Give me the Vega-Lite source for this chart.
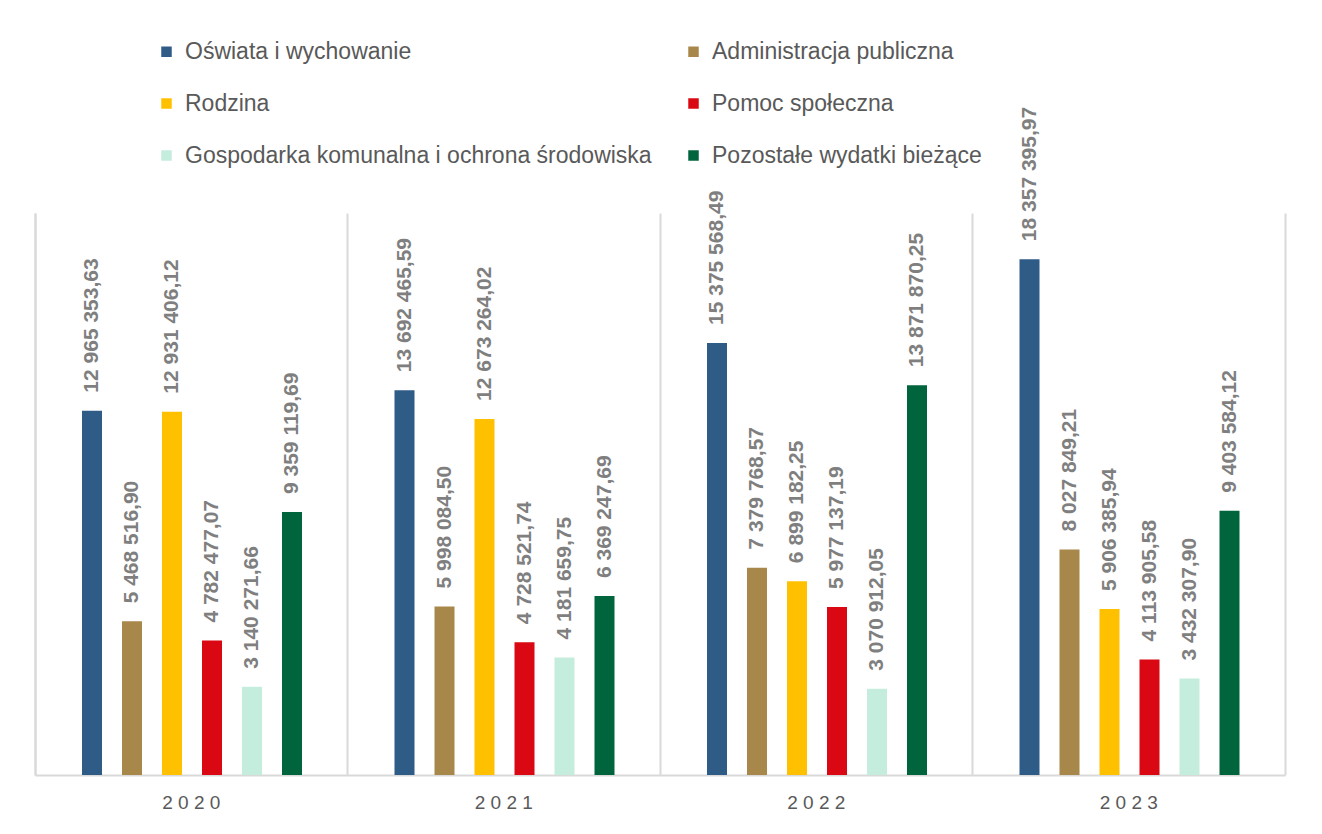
{
  "$schema": "https://vega.github.io/schema/vega-lite/v6.json",
  "autosize": {"type": "none"},
  "width": 1250,
  "height": 562,
  "padding": {"left": 35, "top": 213, "right": 37, "bottom": 59},
  "background": "white",
  "config": {
    "view": {"stroke": null},
    "font": "Liberation Sans",
    "locale": {"number": {"decimal": ",", "thousands": " ", "grouping": [3], "currency": ["", ""]}}
  },
  "data": {"values": [
    {"year": "2020", "cat": "Oświata i wychowanie", "value": 12965353.63},
    {"year": "2021", "cat": "Oświata i wychowanie", "value": 13692465.59},
    {"year": "2022", "cat": "Oświata i wychowanie", "value": 15375568.49},
    {"year": "2023", "cat": "Oświata i wychowanie", "value": 18357395.97},
    {"year": "2020", "cat": "Administracja publiczna", "value": 5468516.90},
    {"year": "2021", "cat": "Administracja publiczna", "value": 5998084.50},
    {"year": "2022", "cat": "Administracja publiczna", "value": 7379768.57},
    {"year": "2023", "cat": "Administracja publiczna", "value": 8027849.21},
    {"year": "2020", "cat": "Rodzina", "value": 12931406.12},
    {"year": "2021", "cat": "Rodzina", "value": 12673264.02},
    {"year": "2022", "cat": "Rodzina", "value": 6899182.25},
    {"year": "2023", "cat": "Rodzina", "value": 5906385.94},
    {"year": "2020", "cat": "Pomoc społeczna", "value": 4782477.07},
    {"year": "2021", "cat": "Pomoc społeczna", "value": 4728521.74},
    {"year": "2022", "cat": "Pomoc społeczna", "value": 5977137.19},
    {"year": "2023", "cat": "Pomoc społeczna", "value": 4113905.58},
    {"year": "2020", "cat": "Gospodarka komunalna i ochrona środowiska", "value": 3140271.66},
    {"year": "2021", "cat": "Gospodarka komunalna i ochrona środowiska", "value": 4181659.75},
    {"year": "2022", "cat": "Gospodarka komunalna i ochrona środowiska", "value": 3070912.05},
    {"year": "2023", "cat": "Gospodarka komunalna i ochrona środowiska", "value": 3432307.90},
    {"year": "2020", "cat": "Pozostałe wydatki bieżące", "value": 9359119.69},
    {"year": "2021", "cat": "Pozostałe wydatki bieżące", "value": 6369247.69},
    {"year": "2022", "cat": "Pozostałe wydatki bieżące", "value": 13871870.25},
    {"year": "2023", "cat": "Pozostałe wydatki bieżące", "value": 9403584.12}
  ]},
  "encoding": {
    "x": {
      "field": "year", "type": "nominal",
      "scale": {"paddingInner": 0, "paddingOuter": 0},
      "axis": {
        "title": null, "labelAngle": 0, "bandPosition": 0, "grid": true,
        "gridColor": "#d9d9d9", "gridWidth": 2,
        "domainColor": "#d9d9d9", "domainWidth": 2, "ticks": false,
        "labelFontSize": 19, "labelColor": "#595959", "labelPadding": 18,
        "labelExpr": "join(split(datum.label, ''), ' ')"
      }
    },
    "xOffset": {
      "field": "cat", "type": "nominal",
      "sort": ["Oświata i wychowanie", "Administracja publiczna", "Rodzina", "Pomoc społeczna", "Gospodarka komunalna i ochrona środowiska", "Pozostałe wydatki bieżące"],
      "scale": {"range": [47, 267], "paddingInner": 0.5, "paddingOuter": 0}
    },
    "y": {
      "field": "value", "type": "quantitative",
      "scale": {"domain": [0, 20000000], "nice": false}
    }
  },
  "layer": [
    {
      "mark": {"type": "bar"},
      "encoding": {
        "y": {"field": "value", "type": "quantitative", "scale": {"domain": [0, 20000000], "nice": false},
          "axis": {"orient": "left", "title": null, "labels": false, "ticks": false, "grid": false, "domainColor": "#d9d9d9", "domainWidth": 2}},
        "color": {
          "field": "cat", "type": "nominal",
          "scale": {
            "domain": ["Oświata i wychowanie", "Administracja publiczna", "Rodzina", "Pomoc społeczna", "Gospodarka komunalna i ochrona środowiska", "Pozostałe wydatki bieżące"],
            "range": ["#2F5B87", "#A8874A", "#FFC000", "#DA0812", "#C5EDDD", "#00643C"]
          },
          "legend": {
            "title": null, "orient": "none", "legendX": 120, "legendY": -173,
            "direction": "horizontal",
            "columns": 2, "columnPadding": 30, "rowPadding": 28, "padding": 0,
            "symbolType": "square", "symbolSize": 110, "symbolStrokeWidth": 0,
            "labelFontSize": 23, "labelColor": "#595959", "labelOffset": 7, "labelLimit": 700
          }
        }
      }
    },
    {
      "mark": {"type": "text", "angle": 270, "align": "left", "baseline": "middle", "dx": 18, "fontSize": 21, "fontWeight": "bold", "color": "#7f7f7f"},
      "encoding": {
        "y": {"field": "value", "type": "quantitative", "scale": {"domain": [0, 20000000], "nice": false},
          "axis": {"orient": "right", "title": null, "labels": false, "ticks": false, "grid": false, "domainColor": "#d9d9d9", "domainWidth": 2}},
        "text": {"field": "value", "type": "quantitative", "format": ",.2f"}
      }
    }
  ],
  "resolve": {"axis": {"y": "independent"}}
}
